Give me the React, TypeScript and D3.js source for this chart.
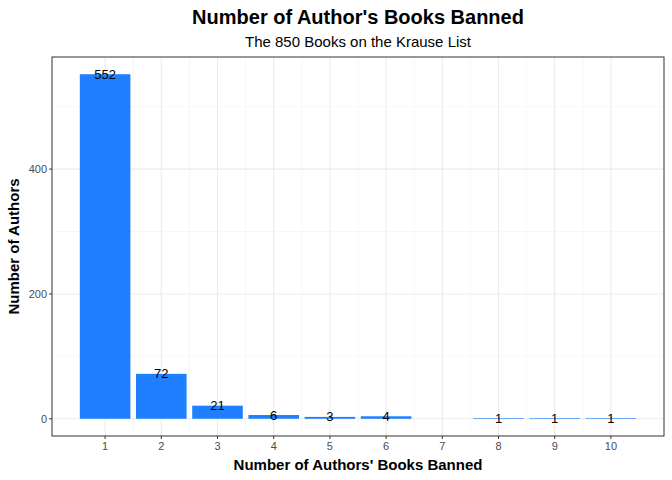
import * as d3 from 'd3';

const counts = [1, 2, 3, 4, 5, 6, 8, 9, 10];
const authors = [552, 72, 21, 6, 3, 4, 1, 1, 1];
const xTicks = [1, 2, 3, 4, 5, 6, 7, 8, 9, 10];
const yTicks = [0, 200, 400];
const yMinor = [100, 300, 500];

const W = 672;
const H = 480;
const m = { left: 52, right: 8, top: 57, bottom: 44 };

export default function App() {
  const x = d3.scaleLinear().domain([0.055, 10.945]).range([m.left, W - m.right]);
  const y = d3.scaleLinear().domain([-27.6, 579.6]).range([H - m.bottom, m.top]);
  const bw = x(0.9) - x(0);
  const font = 'Liberation Sans, Arial, sans-serif';
  const xMinor = d3.range(1.5, 10.5, 1);

  return (
    <svg width={W} height={H} style={{ position: 'absolute', left: 0, top: 0, fontFamily: font }}>
      <rect width={W} height={H} fill="white" />
      {yMinor.map(v => (
        <line key={'ym' + v} x1={m.left} x2={W - m.right} y1={y(v)} y2={y(v)} stroke="#f2f2f2" strokeWidth={0.6} />
      ))}
      {xMinor.map(v => (
        <line key={'xm' + v} x1={x(v)} x2={x(v)} y1={m.top} y2={H - m.bottom} stroke="#f2f2f2" strokeWidth={0.6} />
      ))}
      {yTicks.map(v => (
        <line key={'y' + v} x1={m.left} x2={W - m.right} y1={y(v)} y2={y(v)} stroke="#ebebeb" strokeWidth={1.1} />
      ))}
      {xTicks.map(v => (
        <line key={'x' + v} x1={x(v)} x2={x(v)} y1={m.top} y2={H - m.bottom} stroke="#ebebeb" strokeWidth={1.1} />
      ))}
      {counts.map((c, i) => (
        <rect key={c} x={x(c) - bw / 2} width={bw} y={y(authors[i])} height={y(0) - y(authors[i])} fill="#1f7fff" />
      ))}
      {counts.map((c, i) => (
        <text key={'l' + c} x={x(c)} y={y(authors[i])} dy="0.35em" textAnchor="middle" fontSize={13} fill="black">
          {authors[i]}
        </text>
      ))}
      <rect x={m.left} y={m.top} width={W - m.left - m.right} height={H - m.top - m.bottom} fill="none" stroke="#333333" strokeWidth={1} />
      {yTicks.map(v => (
        <g key={'yt' + v}>
          <line x1={m.left - 3} x2={m.left} y1={y(v)} y2={y(v)} stroke="#333" />
          <text x={m.left - 5} y={y(v)} dy="0.35em" textAnchor="end" fontSize={11} fill="#4d4d4d">{v}</text>
        </g>
      ))}
      {xTicks.map(v => (
        <g key={'xt' + v}>
          <line x1={x(v)} x2={x(v)} y1={H - m.bottom} y2={H - m.bottom + 3} stroke="#333" />
          <text x={x(v)} y={H - m.bottom + 14} textAnchor="middle" fontSize={11} fill="#4d4d4d">{v}</text>
        </g>
      ))}
      <text x={(m.left + W - m.right) / 2} y={24} textAnchor="middle" fontSize={20} fontWeight="bold">Number of Author's Books Banned</text>
      <text x={(m.left + W - m.right) / 2} y={47} textAnchor="middle" fontSize={15}>The 850 Books on the Krause List</text>
      <text x={(m.left + W - m.right) / 2} y={470} textAnchor="middle" fontSize={15} fontWeight="bold">Number of Authors' Books Banned</text>
      <text transform={`translate(19,${(m.top + H - m.bottom) / 2}) rotate(-90)`} textAnchor="middle" fontSize={15} fontWeight="bold">Number of Authors</text>
    </svg>
  );
}
